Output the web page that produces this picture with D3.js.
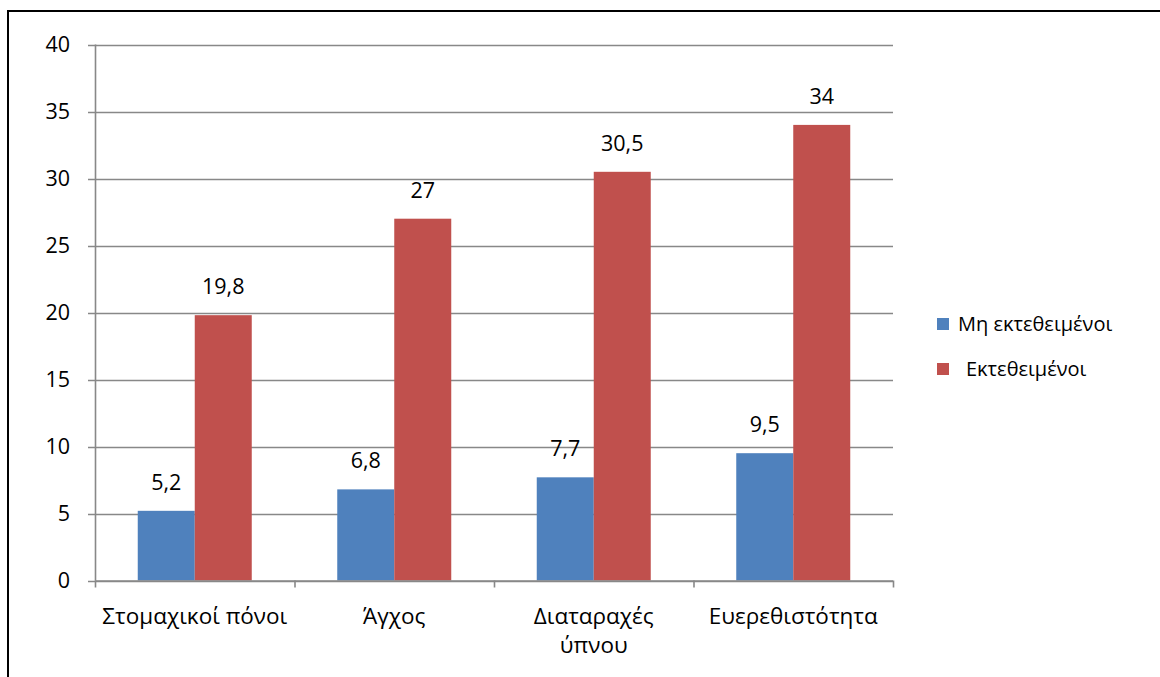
<!DOCTYPE html>
<html>
<head>
<meta charset="utf-8">
<script src="https://cdn.jsdelivr.net/npm/d3@7"></script>
<style>
  html, body { margin: 0; padding: 0; background: #fff; }
  svg { display: block; }
  text { font-family: "Open Sans", "Noto Sans", sans-serif; fill: #000; }
</style>
</head>
<body>
<svg id="chart" width="1160" height="677"></svg>
<script>
// Symptom categories (multi-line labels split on "\n")
const categories = ["Στομαχικοί πόνοι", "Άγχος", "Διαταραχές\nύπνου", "Ευερεθιστότητα"];
const seriesNames = ["Μη εκτεθειμένοι", "Εκτεθειμένοι"];
const notExposed = [5.2, 6.8, 7.7, 9.5];
const exposed = [19.8, 27, 30.5, 34];
const yTicks = [0, 5, 10, 15, 20, 25, 30, 35, 40];

const colors = ["#4F81BD", "#C0504D"];
const seriesValues = [notExposed, exposed];

const svg = d3.select("#chart");
const W = 1160, H = 677;
const plot = { left: 95, right: 893, top: 44.5, bottom: 580.5 };

// Outer frame (top and left edges run off the canvas)
svg.append("path")
  .attr("d", `M8,${H + 5} L8,11 L${W + 5},11`)
  .attr("fill", "none").attr("stroke", "#000").attr("stroke-width", 2);

const x0 = d3.scaleBand().domain(categories).range([plot.left, plot.right]).paddingInner(0).paddingOuter(0);
// Gap width 150%: each bar = band / 3.5, the pair centred in its band
const barW = x0.bandwidth() / 3.5;
const x1 = d3.scaleBand().domain([0, 1])
  .range([x0.bandwidth() / 2 - barW, x0.bandwidth() / 2 + barW]).padding(0);

const y = d3.scaleLinear().domain([0, 40]).range([plot.bottom, plot.top]);

// Gridlines with left tick marks
const grid = svg.append("g");
yTicks.forEach(t => {
  grid.append("line")
    .attr("x1", plot.left - 7).attr("x2", plot.right)
    .attr("y1", Math.round(y(t)) + 0.5).attr("y2", Math.round(y(t)) + 0.5)
    .attr("stroke", "#888").attr("stroke-width", 1.6);
});

// Y axis labels
const yAxis = d3.axisLeft(y).tickValues(yTicks).tickSize(0).tickPadding(0).tickFormat(d3.format("d"));
const gy = svg.append("g").attr("transform", `translate(${plot.left - 25},0)`).call(yAxis);
gy.select(".domain").remove();
gy.selectAll("text").attr("font-size", 21.5).attr("font-family", "Open Sans, sans-serif").attr("fill", "#000").attr("dy", "0.34em");

// Y axis line
svg.append("line")
  .attr("x1", plot.left + 0.5).attr("x2", plot.left + 0.5)
  .attr("y1", plot.top).attr("y2", plot.bottom)
  .attr("stroke", "#888").attr("stroke-width", 1.6);

// Bars with value labels
const groups = svg.append("g").selectAll("g").data(categories).join("g")
  .attr("transform", d => `translate(${x0(d)},0)`);

seriesValues.forEach((vals, si) => {
  groups.append("rect")
    .attr("x", x1(si))
    .attr("width", x1.bandwidth())
    .attr("y", (d, i) => y(vals[i]))
    .attr("height", (d, i) => y(0) - y(vals[i]))
    .attr("fill", colors[si]);
  groups.append("text")
    .attr("x", x1(si) + x1.bandwidth() / 2)
    .attr("y", (d, i) => y(vals[i]) - 21)
    .attr("text-anchor", "middle")
    .attr("font-size", 21.5)
    .text((d, i) => String(vals[i]).replace(".", ","));
});

// X axis with category boundary ticks
const xAxis = d3.axisBottom(x0).tickSize(0).tickPadding(0);
svg.append("line")
  .attr("x1", plot.left).attr("x2", plot.right)
  .attr("y1", plot.bottom + 0.5).attr("y2", plot.bottom + 0.5)
  .attr("stroke", "#888").attr("stroke-width", 1.6);
const bounds = categories.map(c => x0(c)).concat([plot.right]);
bounds.forEach(b => {
  svg.append("line")
    .attr("x1", b + 0.5).attr("x2", b + 0.5)
    .attr("y1", plot.bottom).attr("y2", plot.bottom + 7)
    .attr("stroke", "#888").attr("stroke-width", 1.6);
});
const gx = svg.append("g").attr("transform", `translate(0,${plot.bottom})`).call(xAxis);
gx.select(".domain").remove();
gx.selectAll(".tick text").each(function(d) {
  const t = d3.select(this).text(null).attr("font-size", 22.5).attr("fill", "#000").attr("y", 0).attr("dy", null);
  d.split("\n").forEach((line, i) => {
    t.append("tspan").attr("x", 0).attr("y", 43 + i * 29).text(line);
  });
});

// Legend
const legend = svg.append("g");
const legendY = [324, 369];
const legendTextX = [958, 966];
seriesNames.forEach((name, i) => {
  legend.append("rect")
    .attr("x", 937).attr("y", legendY[i] - 6)
    .attr("width", 12).attr("height", 12)
    .attr("fill", colors[i]);
  legend.append("text")
    .attr("x", legendTextX[i]).attr("y", legendY[i])
    .attr("dy", "0.36em")
    .attr("font-size", 20)
    .text(name);
});
</script>
</body>
</html>
